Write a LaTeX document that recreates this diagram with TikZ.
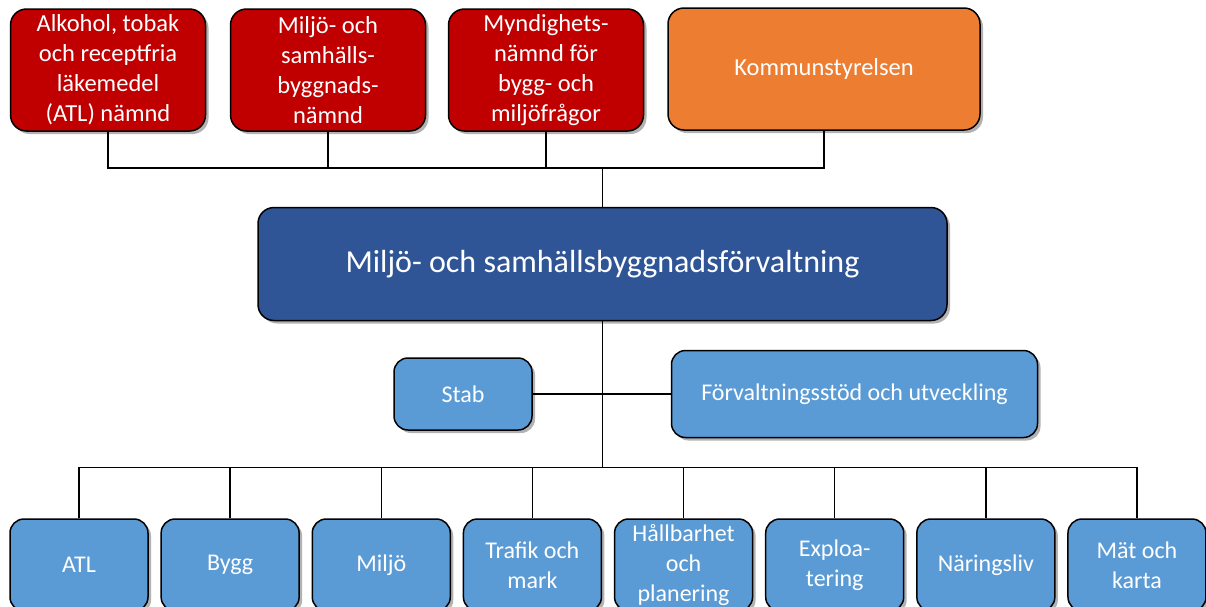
\documentclass[tikz,border=0pt]{standalone}
\usepackage{fontspec}
\setmainfont{Carlito}
\usepackage{tikz}
\usetikzlibrary{positioning,calc,shadows}
\definecolor{namndred}{HTML}{C00000}
\definecolor{ksorange}{HTML}{ED7D31}
\definecolor{forvblue}{HTML}{2F5597}
\definecolor{unitblue}{HTML}{5B9BD5}
\newcommand{\fsz}[2]{\fontsize{#1}{#2}\selectfont}

\begin{document}
\begin{tikzpicture}[x=1pt, y=-1pt, line width=1.5pt]
	\tikzstyle{box} = [rectangle, rounded corners=16pt, draw=black, text=white, align=center, inner sep=2pt,
		drop shadow={shadow xshift=3pt, shadow yshift=-3pt, fill=black, opacity=0.3}]
	\tikzstyle{board} = [box, minimum width=195pt, minimum height=122pt, fill=namndred, font=\fsz{24.5}{30}]
	\tikzstyle{ks} = [box, minimum width=312pt, minimum height=122pt, fill=ksorange, font=\fsz{24.5}{30}]
	\tikzstyle{forv} = [box, minimum width=689pt, minimum height=113pt, fill=forvblue, font=\fsz{32}{39}]
	\tikzstyle{unit} = [box, rounded corners=14pt, minimum width=138pt, minimum height=92pt, fill=unitblue, font=\fsz{24}{30}]
	\useasboundingbox (0,0) rectangle (1206,606);

	% namnder och kommunstyrelsen
	\node (atlnamnd) [board] at (108,70) {Alkohol, tobak\\och receptfria\\läkemedel\\(ATL) nämnd};
	\node (msbn) [board] at (328,70) {Miljö- och\\samhälls-\\byggnads-\\nämnd};
	\node (mbn) [board] at (546,70) {Myndighets-\\nämnd för\\bygg- och\\miljöfrågor};
	\node (kommunstyrelsen) [ks] at (824,69) {Kommunstyrelsen};

	% forvaltning, stab och stod
	\node (forvaltning) [forv] at (602.5,264) {Miljö- och samhällsbyggnadsförvaltning};
	\node (stab) [unit, minimum height=72pt] at (463,394) {Stab};
	\node (fsu) [unit, minimum width=366pt, minimum height=87pt, right=138pt of stab] {Förvaltningsstöd och utveckling};

	% enheter
	\foreach \name/\label [count=\i from 0] in {atl/ATL, bygg/Bygg, miljo/Miljö, trafik/{Trafik och\\mark},
		hallbarhet/{Hållbarhet\\och\\planering}, exploatering/{Exploa-\\tering}, naringsliv/Näringsliv, mat/{Mät och\\karta}}
		\node (\name) [unit] at ({79+151.14*\i},565) {\label};

	\coordinate (top bus) at ($(forvaltning.north)+(0,-39)$);
	\coordinate (low bus) at ($(forvaltning.south)+(0,146)$);

	\draw (atlnamnd.south) |- (top bus) -| (kommunstyrelsen.south);
	\draw (msbn.south) -- (msbn.south |- top bus);
	\draw (mbn.south) -- (mbn.south |- top bus);
	\draw (top bus) -- (forvaltning.north);

	\draw (forvaltning.south) -- (low bus);
	\draw (stab.east) -- (fsu.west);
	\draw (atl.north) |- (low bus) -| (mat.north);
	\foreach \name in {bygg, miljo, trafik, hallbarhet, exploatering, naringsliv}
		\draw (\name.north) -- (\name.north |- low bus);
\end{tikzpicture}
\end{document}
